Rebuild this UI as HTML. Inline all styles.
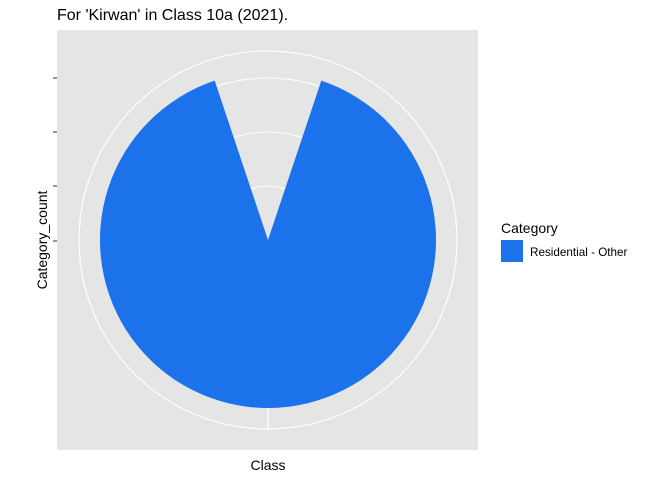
<!DOCTYPE html>
<html><head><meta charset="utf-8"><style>
body{margin:0;background:#fff;font-family:"Liberation Sans",sans-serif}
svg text{font-family:"Liberation Sans",sans-serif}
</style></head><body>
<svg id="c" width="672" height="480">
<text x="57" y="20" font-size="16" fill="#000">For 'Kirwan' in Class 10a (2021).</text>
<rect x="57" y="30" width="421" height="420" fill="#e5e5e5"/>
<g id="grid"></g>
<g id="marks"></g>
<g id="axis"></g>
<text x="268" y="470" font-size="14" text-anchor="middle">Class</text>
<text transform="translate(47,240) rotate(-90)" font-size="14" text-anchor="middle">Category_count</text>
<text x="501" y="233" font-size="14">Category</text>
<rect x="501" y="240" width="22" height="22" fill="#1b72ea"/>
<text x="530" y="256" font-size="11.7">Residential - Other</text>
</svg>
<script>
const categories = ["Residential - Other"];
const counts = [1];
const yTicks = [0, 1, 2, 3];
const cx = 268, cy = 240;
const rPerUnit = 54;
const r = v => v * rPerUnit;
const NS = "http://www.w3.org/2000/svg";
const grid = document.getElementById('grid'), marks = document.getElementById('marks'), axis = document.getElementById('axis');
yTicks.slice(1).forEach(t => {
  const c = document.createElementNS(NS, 'circle');
  c.setAttribute('cx', cx); c.setAttribute('cy', cy); c.setAttribute('r', r(t));
  c.setAttribute('fill', 'none'); c.setAttribute('stroke', '#fff'); c.setAttribute('stroke-width', '1');
  
  
  grid.appendChild(c);
  const tk = document.createElementNS(NS, 'line');
  tk.setAttribute('x1', 53); tk.setAttribute('x2', 57);
  tk.setAttribute('y1', cy - r(t)); tk.setAttribute('y2', cy - r(t));
  tk.setAttribute('stroke', '#333');
  
  
  axis.appendChild(tk);
});
{
  const tk = document.createElementNS(NS, 'line');
  tk.setAttribute('x1', 53); tk.setAttribute('x2', 57); tk.setAttribute('y1', cy + 1); tk.setAttribute('y2', cy + 1);
  tk.setAttribute('stroke', '#333');
  
  
  axis.appendChild(tk);
}
const outer = document.createElementNS(NS, 'circle');
outer.setAttribute('cx', cx); outer.setAttribute('cy', cy); outer.setAttribute('r', 189);
outer.setAttribute('fill', 'none'); outer.setAttribute('stroke', '#fff'); outer.setAttribute('stroke-width', '1.2');


grid.appendChild(outer);
const vl = document.createElementNS(NS, 'line');
vl.setAttribute('x1', cx); vl.setAttribute('x2', cx); vl.setAttribute('y1', cy); vl.setAttribute('y2', cy + 190);
vl.setAttribute('stroke', '#fff'); vl.setAttribute('stroke-width', '1.2');


grid.appendChild(vl);
const R = 168;
categories.forEach((cat, i) => {
  const a0 = 18.5 * Math.PI / 180;
  const a1 = a0 + (counts[i] / counts.reduce((a, b) => a + b, 0)) * (323 * Math.PI / 180);
  const x0 = cx + R * Math.sin(a0), y0 = cy - R * Math.cos(a0);
  const x1 = cx + R * Math.sin(a1), y1 = cy - R * Math.cos(a1);
  const large = (a1 - a0) > Math.PI ? 1 : 0;
  const p = document.createElementNS(NS, 'path');
  p.setAttribute('d', `M${cx},${cy} L${x0},${y0} A${R},${R} 0 ${large} 1 ${x1},${y1} Z`);
  p.setAttribute('fill', '#1b72ea');
  
  
  marks.appendChild(p);
});
</script>
</body></html>
